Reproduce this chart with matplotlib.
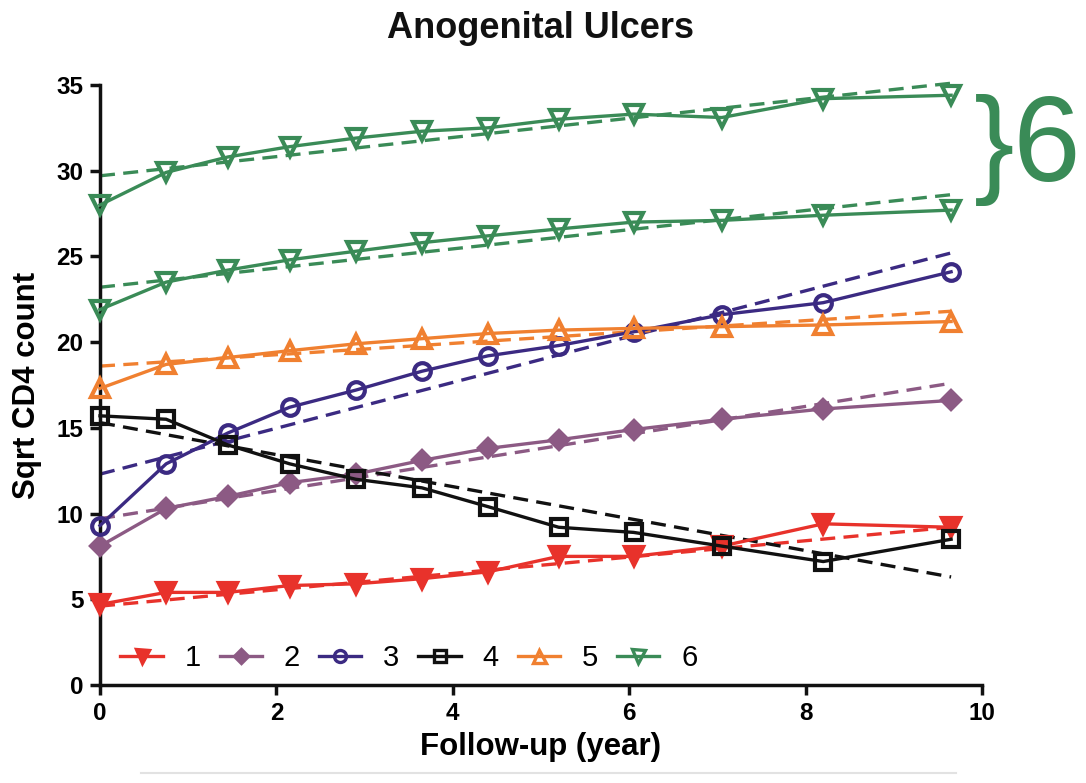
import matplotlib
matplotlib.use("Agg")
import matplotlib.pyplot as plt
from matplotlib.lines import Line2D

plt.rcParams['font.family'] = ['Liberation Sans', 'DejaVu Sans']

# ---- data ----
years = [0, 0.75, 1.45, 2.15, 2.9, 3.65, 4.4, 5.2, 6.05, 7.05, 8.2, 9.65]

s1 = [4.7, 5.4, 5.4, 5.8, 5.9, 6.2, 6.6, 7.5, 7.5, 8.1, 9.4, 9.2]
s2 = [8.1, 10.3, 11.0, 11.8, 12.3, 13.1, 13.8, 14.3, 14.9, 15.5, 16.1, 16.6]
s3 = [9.3, 12.9, 14.7, 16.2, 17.2, 18.3, 19.2, 19.8, 20.6, 21.6, 22.3, 24.1]
s4 = [15.7, 15.5, 14.0, 12.9, 12.0, 11.5, 10.4, 9.2, 8.9, 8.1, 7.2, 8.5]
s5 = [17.3, 18.7, 19.1, 19.5, 19.9, 20.2, 20.5, 20.7, 20.8, 20.9, 21.0, 21.2]
s6a = [28.0, 29.9, 30.8, 31.4, 31.9, 32.3, 32.5, 33.0, 33.3, 33.1, 34.2, 34.4]
s6b = [21.9, 23.5, 24.2, 24.8, 25.3, 25.8, 26.2, 26.6, 27.0, 27.1, 27.4, 27.7]

# linear fit lines (value at year 0, value at last year)
fit_x = [0, 9.65]
fit1 = [4.6, 9.2]
fit2 = [9.7, 17.6]
fit3 = [12.3, 25.2]
fit4 = [15.3, 6.3]
fit5 = [18.6, 21.8]
fit6a = [29.7, 35.1]
fit6b = [23.2, 28.6]

labels = ['1', '2', '3', '4', '5', '6']

colors = {
    '1': '#E8322B',
    '2': '#8C5A84',
    '3': '#3B2A82',
    '4': '#111111',
    '5': '#F08030',
    '6': '#3A8B57',
}

fig = plt.figure(figsize=(10.86, 7.83), dpi=100)
ax = fig.add_axes([0.0921, 0.1252, 0.8121, 0.7663])

lw = 2.4
mew = 3.0
ms = 13

series = [
    ('1', s1, fit1, dict(marker='v', mfc=colors['1'], mec=colors['1'])),
    ('2', s2, fit2, dict(marker='D', mfc=colors['2'], mec=colors['2'], ms=9.5)),
    ('3', s3, fit3, dict(marker='o', mfc='none', mec=colors['3'], ms=12)),
    ('4', s4, fit4, dict(marker='s', mfc='none', mec=colors['4'], ms=12)),
    ('5', s5, fit5, dict(marker='^', mfc='none', mec=colors['5'])),
    ('6', s6a, fit6a, dict(marker='v', mfc='none', mec=colors['6'])),
    (None, s6b, fit6b, dict(marker='v', mfc='none', mec=colors['6'])),
]

handles = []
for lab, ys, fit, mk in series:
    key = lab if lab else '6'
    c = colors[key]
    msz = mk.pop('ms', ms)
    ax.plot(fit_x, fit, color=c, lw=lw, ls=(0, (4.5, 2.5)), clip_on=False, zorder=2)
    ax.plot(years, ys, color=c, lw=lw, ms=msz, mew=mew, clip_on=False, zorder=3, **mk)
    if lab:
        handles.append(Line2D([0], [0], color=c, lw=lw, ms=msz * 0.72, mew=mew * 0.8, **mk))

ax.set_xlim(0, 10)
ax.set_ylim(0, 35)
ax.set_xticks([0, 2, 4, 6, 8, 10])
ax.set_yticks([0, 5, 10, 15, 20, 25, 30, 35])

for sp in ['top', 'right']:
    ax.spines[sp].set_visible(False)
for sp in ['left', 'bottom']:
    ax.spines[sp].set_linewidth(2.5)
    ax.spines[sp].set_color('#111111')

ax.tick_params(axis='both', direction='out', length=7, width=2.5, color='#111111',
               labelsize=17.5, pad=5)
for t in ax.get_xticklabels() + ax.get_yticklabels():
    t.set_fontweight('bold')

ax.set_xlabel('Follow-up (year)', fontsize=22.5, fontweight='bold', labelpad=5)
ax.set_ylabel('Sqrt CD4 count', fontsize=22.5, fontweight='bold', labelpad=10)

fig.text(0.498, 0.964, 'Anogenital Ulcers', ha='center', va='center',
         fontsize=26, fontweight='bold', color='#111111')

leg = ax.legend(handles, labels, loc='lower left', ncol=6, frameon=False,
                fontsize=21, handlelength=1.45, handletextpad=0.75, columnspacing=0.65,
                bbox_to_anchor=(0.0, -0.012), borderaxespad=0.3)

fig.text(0.897, 0.808, '}6', ha='left', va='center', fontsize=87,
         color=colors['6'], family=['Liberation Sans Narrow', 'Liberation Sans', 'DejaVu Sans'])

fig.add_artist(Line2D([0.13, 0.88], [0.0128, 0.0128], color='#E2E2E2', lw=1.5,
                      transform=fig.transFigure))

fig.savefig('out.png', dpi=100)
